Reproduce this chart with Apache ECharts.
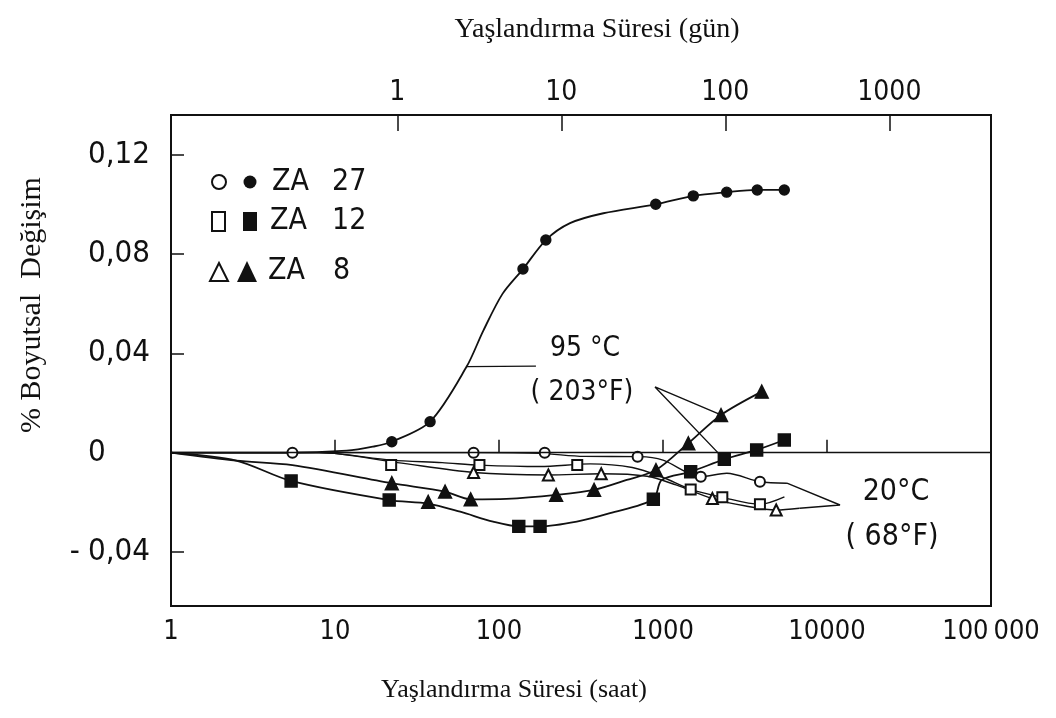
<!DOCTYPE html>
<html>
<head>
<meta charset="utf-8">
<script src="https://cdn.jsdelivr.net/npm/echarts@6/dist/echarts.min.js"></script>
<style>
  html, body { margin: 0; padding: 0; background: #fff; }
  #chart { width: 1056px; height: 718px; }
</style>
</head>
<body>
<div id="chart"></div>
<script>
// Axis tick values
const hourLabels = [1, 10, 100, 1000, 10000, 100000];
const hourTicks = [10, 100, 1000, 10000];
const dayTicks = [1, 10, 100, 1000];
const changeTicks = [-0.04, 0, 0.04, 0.08, 0.12];

// 95 °C (203 °F) — measured points [hours, % dimensional change]
const za27HotPoints = [[22.2, 0.0044], [38, 0.0125], [140, 0.074], [193, 0.0857], [903, 0.1001], [1530, 0.1035], [2445, 0.105], [3755, 0.1059], [5490, 0.1059]];
const za12HotPoints = [[5.4, -0.0114], [21.4, -0.0191], [132, -0.0297], [178, -0.0297], [873, -0.0188], [1475, -0.0077], [2365, -0.0027], [3725, 0.0011], [5490, 0.0051]];
const za8HotPoints  = [[22.2, -0.0123], [37, -0.0198], [46.9, -0.0157], [67.2, -0.0188], [223, -0.017], [380, -0.015], [906, -0.007], [1427, 0.0038], [2258, 0.0152], [4000, 0.0246]];

// 95 °C fitted curves
const za27HotCurve = [[1, 0], [5, 0], [11.8, 0.0008], [17, 0.0024], [22.2, 0.0044], [38, 0.0125], [63.5, 0.0347], [80, 0.049], [105, 0.064], [140, 0.074], [193, 0.0857], [271, 0.0925], [433, 0.0965], [903, 0.1001], [1530, 0.1035], [2445, 0.105], [3755, 0.1059], [5490, 0.1059]];
const za12HotCurve = [[1, 0], [2.5, -0.0032], [5.4, -0.0114], [21.4, -0.0191], [37, -0.0205], [58, -0.0238], [92, -0.0278], [132, -0.0297], [178, -0.0297], [298, -0.0278], [475, -0.0244], [873, -0.0188], [982, -0.011], [1475, -0.0077], [2365, -0.0027], [3725, 0.0011], [5490, 0.0051]];
const za8HotCurve  = [[1, 0], [2.5, -0.0032], [5.5, -0.005], [22.2, -0.0123], [46.9, -0.0157], [67.2, -0.0188], [111, -0.0186], [223, -0.017], [380, -0.015], [601, -0.011], [906, -0.007], [1427, 0.0038], [2258, 0.0152], [4000, 0.0246]];

// 20 °C (68 °F) — measured points
const za27ColdPoints = [[5.5, 0], [70, 0], [190, 0], [700, -0.0016], [1700, -0.0097], [3900, -0.0117]];
const za12ColdPoints = [[22, -0.005], [76, -0.005], [300, -0.005], [1475, -0.0148], [2300, -0.018], [3900, -0.0208]];
const za8ColdPoints  = [[70, -0.008], [200, -0.009], [420, -0.0085], [2000, -0.0185], [4900, -0.0231]];

// 20 °C fitted curves
const za27ColdCurve = [[1, 0], [5.5, 0], [24, 0], [70, 0], [180, -0.0003], [330, -0.0015], [720, -0.0016], [1000, -0.003], [1700, -0.0097], [2450, -0.0083], [3900, -0.0117], [5700, -0.0123]];
const za12ColdCurve = [[1, 0], [8, 0], [22, -0.003], [45, -0.004], [76, -0.005], [178, -0.0056], [360, -0.0045], [650, -0.006], [1000, -0.010], [1475, -0.0148], [2300, -0.018], [3900, -0.0208], [5500, -0.0178]];
const za8ColdCurve  = [[1, 0], [8, 0], [24, -0.004], [70, -0.008], [200, -0.009], [420, -0.0085], [800, -0.0095], [1200, -0.013], [2000, -0.0185], [3200, -0.0215], [4900, -0.0231], [6800, -0.0224]];

// Leader lines from the temperature notes to their curves
const hotLeader = [[63.5, 0.0347], [168, 0.0349]];
const hotArrows = [[2258, 0.0152], [894, 0.0265], [2365, -0.0027]];
const coldArrows = [[5700, -0.0123], [12000, -0.0211], [6800, -0.0224]];

const INK = '#111';
const numFont = '"DejaVu Sans Condensed", "Liberation Sans Narrow", sans-serif';
const serifFont = '"Liberation Serif", "DejaVu Serif", serif';

function curve(name, data, width) {
  return {
    type: 'line', name, data, smooth: 0.3, symbol: 'none', showSymbol: false,
    lineStyle: { color: INK, width }, silent: true, z: 2
  };
}
function straight(name, data) {
  return {
    type: 'line', name, data, smooth: false, symbol: 'none', showSymbol: false,
    lineStyle: { color: INK, width: 1.4 }, silent: true, z: 2
  };
}
function points(name, data, symbol, size) {
  return {
    type: 'scatter', name, data, symbol, symbolSize: size,
    itemStyle: { color: INK, borderColor: INK, borderWidth: 1.4, opacity: 1 }, z: 4
  };
}

const commaNum = v => {
  if (Math.abs(v) < 1e-9) return '0';
  const s = Math.abs(v).toFixed(2).replace('.', ',');
  return v < 0 ? '{m|-   }' + s : s;
};

const chart = echarts.init(document.getElementById('chart'));
chart.setOption({
  animation: false,
  backgroundColor: '#fff',
  grid: {
    left: 171, right: 65, top: 115, bottom: 112,
    show: true, borderColor: INK, borderWidth: 2, backgroundColor: 'transparent'
  },
  xAxis: [
    {
      type: 'log', logBase: 10, min: 1, max: 100000, position: 'bottom',
      axisLine: { show: false },
      axisTick: { show: true, inside: true, length: 13, customValues: hourTicks, lineStyle: { color: INK, width: 1.5 } },
      axisLabel: {
        customValues: hourLabels, margin: 12, color: INK,
        fontFamily: numFont, fontSize: 27,
        formatter: v => (v >= 100000 ? '100\u2009000' : String(Math.round(v)))
      },
      splitLine: { show: false }, minorTick: { show: false }
    },
    {
      type: 'log', logBase: 10, min: 1 / 24, max: 100000 / 24, position: 'top',
      axisLine: { show: false },
      axisTick: { show: true, inside: true, length: 16, customValues: dayTicks, lineStyle: { color: INK, width: 1.5 } },
      axisLabel: {
        customValues: dayTicks, margin: 8, color: INK,
        fontFamily: numFont, fontSize: 28,
        formatter: v => String(Math.round(v))
      },
      splitLine: { show: false }
    }
  ],
  yAxis: {
    type: 'value', min: -0.0618, max: 0.1361,
    axisLine: { show: false },
    axisTick: { show: true, inside: true, length: 13, customValues: changeTicks, lineStyle: { color: INK, width: 1.5 } },
    axisLabel: {
      customValues: changeTicks, align: 'left', margin: 83, color: INK,
      fontFamily: numFont, fontSize: 31, formatter: commaNum,
      rich: { m: { width: 0, align: 'right', fontFamily: numFont, fontSize: 31, color: INK } }
    },
    splitLine: { show: false }
  },
  series: [
    Object.assign(curve('ZA 27 · 95 °C', za27HotCurve, 1.8), {
      markLine: {
        silent: true, symbol: 'none', label: { show: false },
        lineStyle: { color: INK, width: 1.3, type: 'solid' },
        data: [{ yAxis: 0 }]
      }
    }),
    curve('ZA 12 · 95 °C', za12HotCurve, 1.8),
    curve('ZA 8 · 95 °C', za8HotCurve, 1.8),
    curve('ZA 27 · 20 °C', za27ColdCurve, 1.4),
    curve('ZA 12 · 20 °C', za12ColdCurve, 1.4),
    curve('ZA 8 · 20 °C', za8ColdCurve, 1.4),
    points('ZA 27 · 95 °C', za27HotPoints, 'circle', 10),
    points('ZA 12 · 95 °C', za12HotPoints, 'rect', 12),
    points('ZA 8 · 95 °C', za8HotPoints, 'triangle', 13),
    points('ZA 27 · 20 °C', za27ColdPoints, 'emptyCircle', 10),
    points('ZA 12 · 20 °C', za12ColdPoints, 'emptyRect', 10),
    points('ZA 8 · 20 °C', za8ColdPoints, 'emptyTriangle', 11),
    straight('95 °C', hotLeader),
    straight('95 °C ok', hotArrows),
    straight('20 °C ok', coldArrows)
  ],
  graphic: [
    // Axis titles
    { type: 'text', x: 597, y: 30, style: { text: 'Yaşlandırma Süresi (gün)', font: '28px ' + serifFont, fill: INK, align: 'center', verticalAlign: 'middle' } },
    { type: 'text', x: 514, y: 690, style: { text: 'Yaşlandırma Süresi (saat)', font: '26px ' + serifFont, fill: INK, align: 'center', verticalAlign: 'middle' } },
    { type: 'text', x: 32, y: 305, rotation: Math.PI / 2, style: { text: '% Boyutsal  Değişim', font: '30px ' + serifFont, fill: INK, align: 'center', verticalAlign: 'middle' } },

    // Key: open symbol = 20 °C, filled symbol = 95 °C
    { type: 'circle', shape: { cx: 219, cy: 182, r: 7 }, style: { fill: 'transparent', stroke: INK, lineWidth: 2 } },
    { type: 'circle', shape: { cx: 250, cy: 182, r: 6.5 }, style: { fill: INK } },
    { type: 'text', x: 272, y: 182, style: { text: 'ZA', font: '30px ' + numFont, fill: INK, verticalAlign: 'middle' } },
    { type: 'text', x: 332, y: 182, style: { text: '27', font: '30px ' + numFont, fill: INK, verticalAlign: 'middle' } },

    { type: 'rect', shape: { x: 212, y: 212, width: 13, height: 19 }, style: { fill: 'transparent', stroke: INK, lineWidth: 2 } },
    { type: 'rect', shape: { x: 243, y: 212, width: 14, height: 19 }, style: { fill: INK } },
    { type: 'text', x: 270, y: 221, style: { text: 'ZA', font: '30px ' + numFont, fill: INK, verticalAlign: 'middle' } },
    { type: 'text', x: 332, y: 221, style: { text: '12', font: '30px ' + numFont, fill: INK, verticalAlign: 'middle' } },

    { type: 'polygon', shape: { points: [[219, 263], [210, 281], [228, 281]] }, style: { fill: 'transparent', stroke: INK, lineWidth: 2 } },
    { type: 'polygon', shape: { points: [[247, 261], [237, 282], [257, 282]] }, style: { fill: INK } },
    { type: 'text', x: 268, y: 271, style: { text: 'ZA', font: '30px ' + numFont, fill: INK, verticalAlign: 'middle' } },
    { type: 'text', x: 333, y: 271, style: { text: '8', font: '30px ' + numFont, fill: INK, verticalAlign: 'middle' } },

    // Temperature notes
    { type: 'text', x: 585, y: 349, style: { text: '95 °C', font: '28px ' + numFont, fill: INK, align: 'center', verticalAlign: 'middle' } },
    { type: 'text', x: 582, y: 393, style: { text: '( 203°F)', font: '28px ' + numFont, fill: INK, align: 'center', verticalAlign: 'middle' } },
    { type: 'text', x: 896, y: 492, style: { text: '20°C', font: '30px ' + numFont, fill: INK, align: 'center', verticalAlign: 'middle' } },
    { type: 'text', x: 892, y: 537, style: { text: '( 68°F)', font: '30px ' + numFont, fill: INK, align: 'center', verticalAlign: 'middle' } }
  ]
});
</script>
</body>
</html>
